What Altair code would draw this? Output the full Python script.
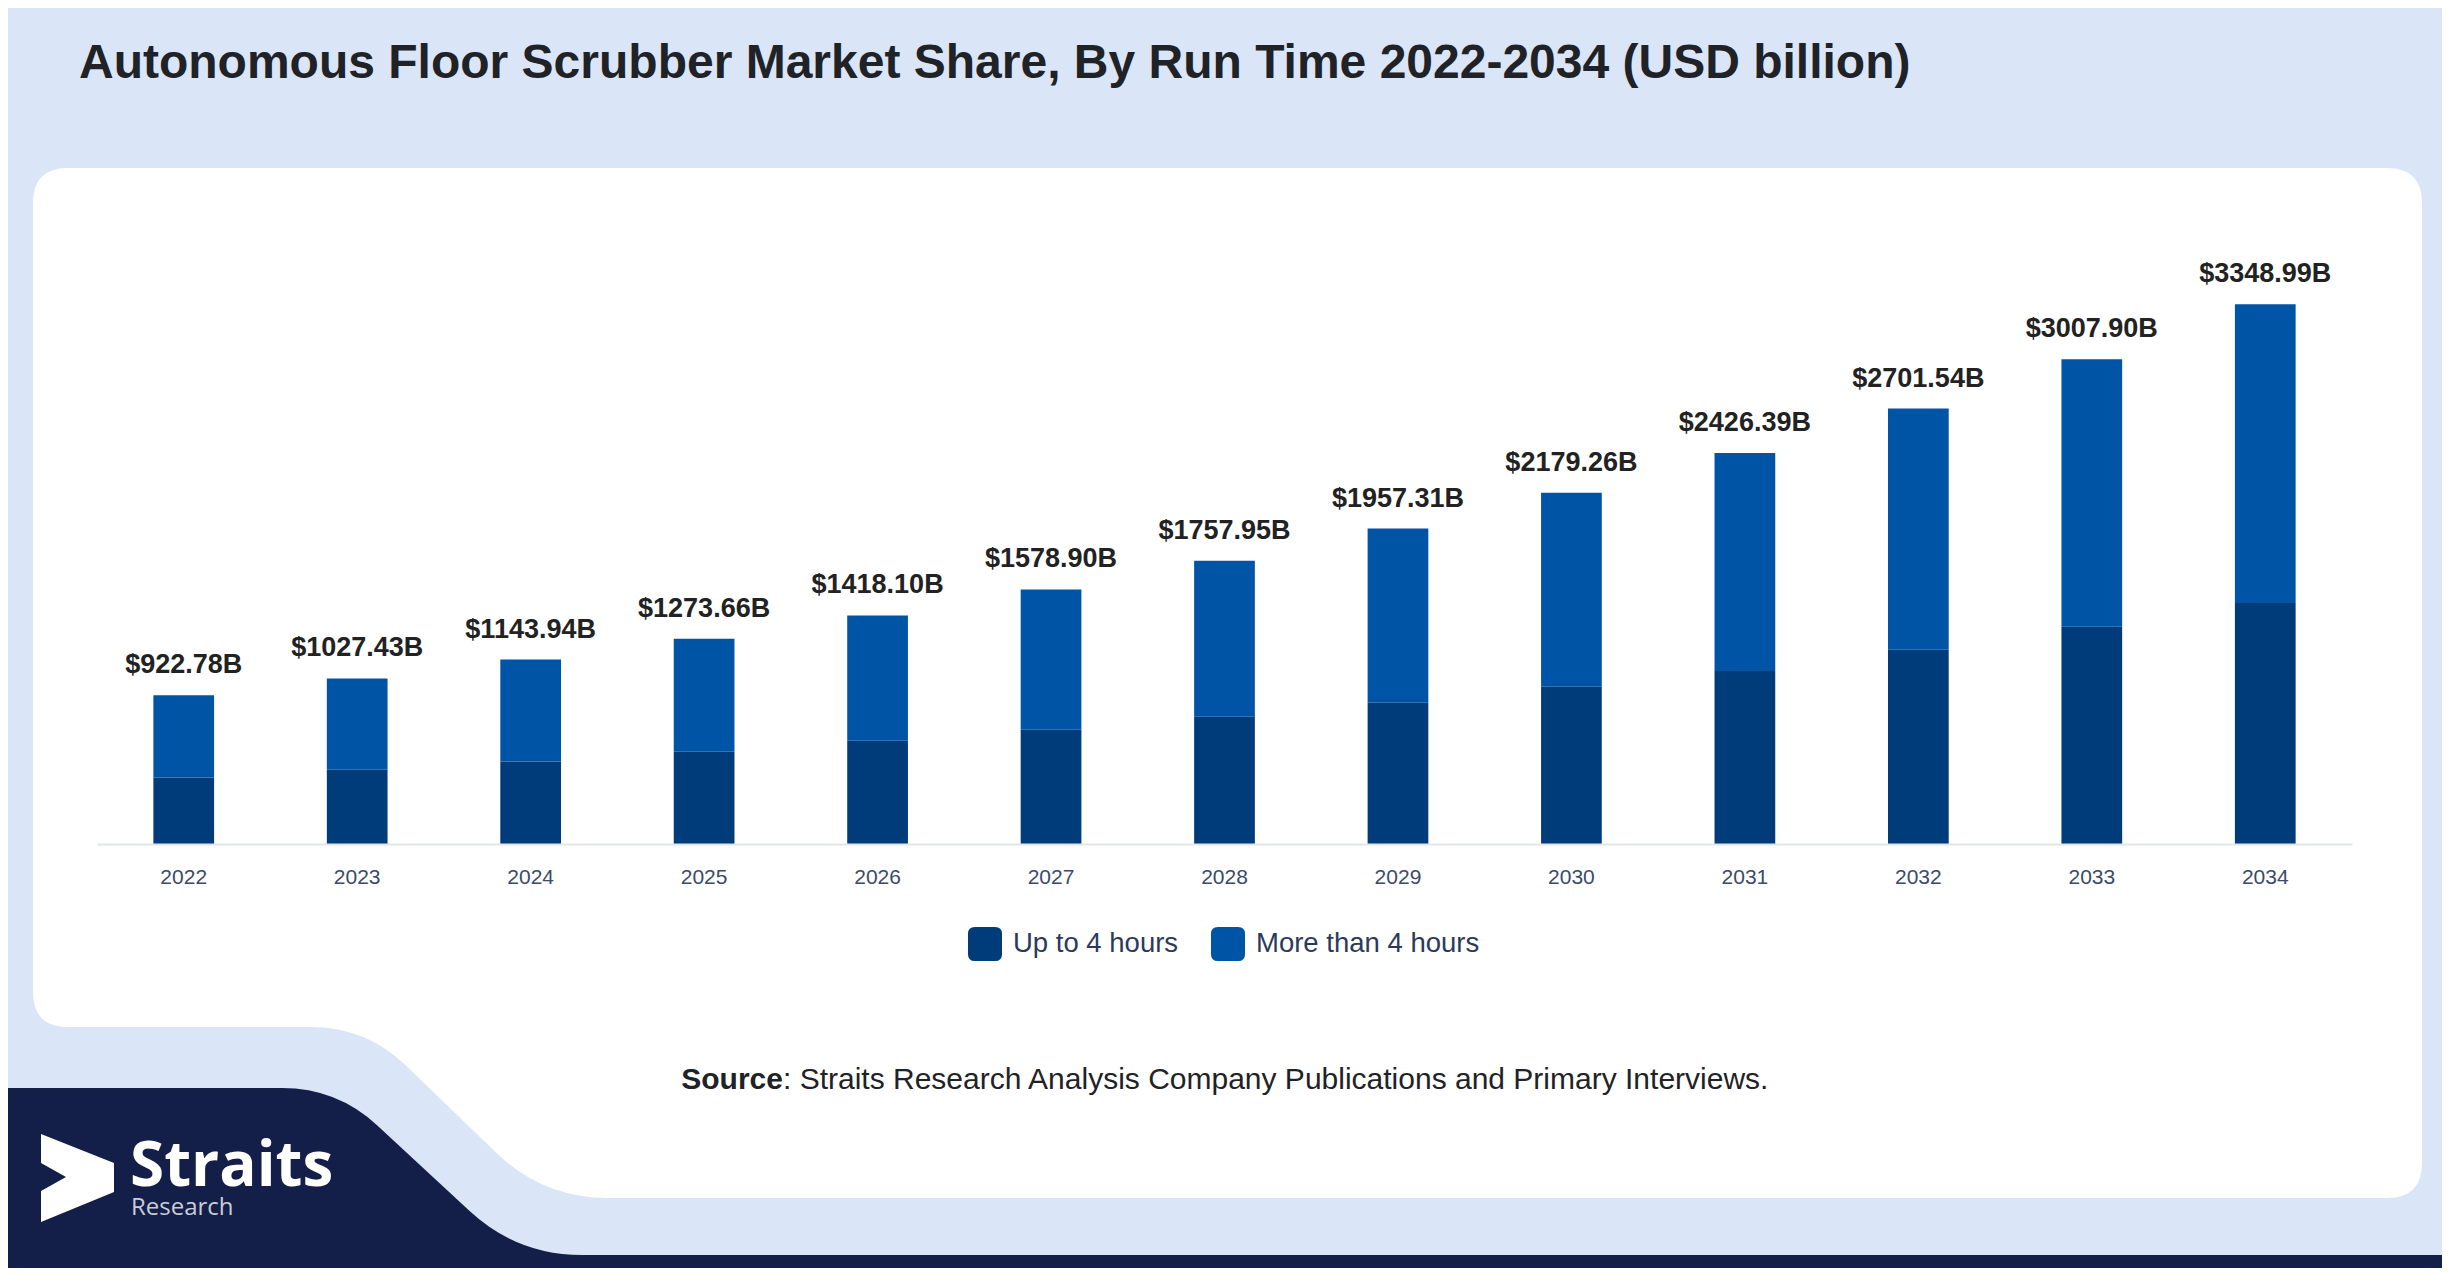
import math
import altair as alt
import pandas as pd

# ---------------- data ----------------
YEARS = ["2022", "2023", "2024", "2025", "2026", "2027", "2028",
         "2029", "2030", "2031", "2032", "2033", "2034"]
UP_TO_4 = [412.0, 461.0, 512.0, 572.0, 640.0, 709.0, 789.0,
           876.0, 975.0, 1074.0, 1205.0, 1348.0, 1495.0]
MORE_THAN_4 = [510.78, 566.43, 631.94, 701.66, 778.10, 869.90, 968.95,
               1081.31, 1204.26, 1352.39, 1496.54, 1659.90, 1853.99]
TOTALS = [922.78, 1027.43, 1143.94, 1273.66, 1418.10, 1578.90, 1757.95,
          1957.31, 2179.26, 2426.39, 2701.54, 3007.90, 3348.99]
SERIES = ["Up to 4 hours", "More than 4 hours"]
COLORS = ["#003b7a", "#0054a6"]

TITLE = "Autonomous Floor Scrubber Market Share, By Run Time 2022-2034 (USD billion)"
SOURCE_BOLD = "Source"
SOURCE_REST = ": Straits Research Analysis Company Publications and Primary Interviews."
LOGO_MAIN = "Straits"
LOGO_SUB = "Research"

rows = []
for i, yr in enumerate(YEARS):
    rows.append({"year": yr, "series": SERIES[0], "value": UP_TO_4[i], "ord": 0})
    rows.append({"year": yr, "series": SERIES[1], "value": MORE_THAN_4[i], "ord": 1})
bars_df = pd.DataFrame(rows)
tot_df = pd.DataFrame({"year": YEARS, "total": TOTALS})
one = pd.DataFrame({"k": [0]})

# ---------------- layout ----------------
W, H = 2255, 677          # plot area
OX, OY = 97, 167          # plot origin on the page (screenshot coords)
FONT = "Liberation Sans"
BG = "#dae6f8"
NAVY = "#131f48"


def loc(p):
    return (p[0] - OX, p[1] - OY)


def shape_path(points, radii):
    """Rounded polygon as a custom Vega symbol; returns (path, cx, cy, size)."""
    pts = [loc(p) for p in points]
    xs = [p[0] for p in pts]
    ys = [p[1] for p in pts]
    cx = (min(xs) + max(xs)) / 2
    cy = (min(ys) + max(ys)) / 2
    half = max(max(xs) - min(xs), max(ys) - min(ys)) / 2 + 1

    def u(p):
        return f"{(p[0] - cx) / half:.5f},{(p[1] - cy) / half:.5f}"

    cmds = []
    n = len(pts)
    for i in range(n):
        p0, p1, p2 = pts[i - 1], pts[i], pts[(i + 1) % n]
        r = radii[i]
        if r <= 0:
            cmds.append(("M" if i == 0 else "L") + u(p1))
            continue
        l1 = math.hypot(p0[0] - p1[0], p0[1] - p1[1])
        l2 = math.hypot(p2[0] - p1[0], p2[1] - p1[1])
        a = (p1[0] + (p0[0] - p1[0]) / l1 * r, p1[1] + (p0[1] - p1[1]) / l1 * r)
        b = (p1[0] + (p2[0] - p1[0]) / l2 * r, p1[1] + (p2[1] - p1[1]) / l2 * r)
        cmds.append(("M" if i == 0 else "L") + u(a))
        cmds.append("Q" + u(p1) + " " + u(b))
    cmds.append("Z")
    return " ".join(cmds), cx, cy, (2 * half) ** 2


def deco_shape(points, radii, color):
    path, cx, cy, size = shape_path(points, radii)
    return alt.Chart(one).mark_point(
        shape=path, filled=True, opacity=1, strokeWidth=0, color=color
    ).encode(x=alt.value(cx), y=alt.value(cy), size=alt.value(size))


def deco_text(txt, x, y, **kw):
    return alt.Chart(one).mark_text(baseline="alphabetic", **kw).encode(
        x=alt.value(x), y=alt.value(y), text=alt.value(txt)
    )


# background decorations (page coordinates)
navy = deco_shape(
    [(0, 1088), (337, 1088), (517, 1255), (2450, 1255), (2450, 1290), (0, 1290)],
    [0, 55, 65, 0, 0, 0], NAVY)
panel = deco_shape(
    [(33, 168), (2422, 168), (2422, 1198), (543, 1198), (366, 1027), (33, 1027)],
    [35, 35, 35, 65, 55, 35], "#ffffff")
arrow = deco_shape(
    [(41, 1134), (114, 1163), (114, 1192), (41, 1222), (41, 1191), (66, 1177), (41, 1163)],
    [0, 0, 0, 0, 0, 0, 0], "#ffffff")

ROUNDSQ = ("M-1,-0.6 Q-1,-1 -0.6,-1 L0.6,-1 Q1,-1 1,-0.6 L1,0.6 Q1,1 0.6,1 "
           "L-0.6,1 Q-1,1 -1,0.6 Z")

x_enc = alt.X(
    "year:N", sort=YEARS,
    scale=alt.Scale(paddingInner=0.65, paddingOuter=0.325),
    axis=alt.Axis(title=None, labelAngle=0, ticks=False, grid=False,
                  domainColor="#e3e5e9", domainWidth=2,
                  labelFontSize=21, labelFont=FONT, labelColor="#3b4a68",
                  labelPadding=22, zindex=1),
)
y_scale = alt.Scale(domain=[0, 4200], nice=False, zero=True)

bars = alt.Chart(bars_df).mark_bar().encode(
    x=x_enc,
    y=alt.Y("value:Q", stack="zero", scale=y_scale, axis=None),
    color=alt.Color(
        "series:N",
        scale=alt.Scale(domain=SERIES, range=COLORS),
        legend=alt.Legend(
            title=None, orient="none", legendX=871, legendY=760,
            direction="horizontal", symbolType=ROUNDSQ, symbolSize=1156,
            symbolStrokeWidth=0, symbolOpacity=1,
            labelFontSize=27.5, labelFont=FONT, labelColor="#2b3a5c",
            labelOffset=11, columnPadding=32, labelLimit=600, padding=0,
            zindex=1,
        ),
    ),
    order=alt.Order("ord:Q", sort="ascending"),
)

labels = alt.Chart(tot_df).transform_calculate(
    lbl="'$' + format(datum.total, '.2f') + 'B'"
).mark_text(
    fontSize=27, fontWeight="bold", font=FONT, color="#222222",
    baseline="alphabetic", dy=-22,
).encode(
    x=x_enc,
    y=alt.Y("total:Q", scale=y_scale, axis=None),
    text="lbl:N",
)

title_t = deco_text(TITLE, 79 - OX, 78 - OY, align="left", font=FONT,
                    fontSize=48, fontWeight="bold", color="#1f2226")
src_b = deco_text(SOURCE_BOLD, 783 - OX, 1089 - OY, align="right", font=FONT,
                  fontSize=30, fontWeight="bold", color="#1f2226")
src_r = deco_text(SOURCE_REST, 783 - OX, 1089 - OY, align="left", font=FONT,
                  fontSize=30, color="#1f2226")
logo1 = deco_text(LOGO_MAIN, 130 - OX, 1186 - OY, align="left", font="Open Sans",
                  fontSize=62, fontWeight="bold", color="#ffffff")
logo2 = deco_text(LOGO_SUB, 131 - OX, 1215 - OY, align="left", font="Open Sans",
                  fontSize=24, color="#c9cdd8")

chart = alt.layer(
    navy, panel, bars, labels, title_t, src_b, src_r, arrow, logo1, logo2
).properties(
    width=W, height=H,
    autosize=alt.AutoSizeParams(type="none"),
    padding={"left": OX - 8, "top": OY - 8, "right": 2434 - (OX - 8) - W,
             "bottom": 1260 - (OY - 8) - H},
).configure(background=BG).configure_view(strokeWidth=0, fill=None)

chart.save("out.html", embed_options={"renderer": "svg", "actions": False})
